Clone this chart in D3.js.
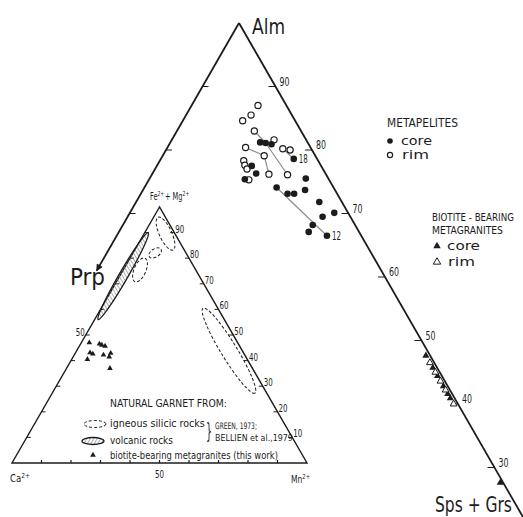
<!DOCTYPE html>
<html><head><meta charset="utf-8">
<script src="https://cdn.jsdelivr.net/npm/d3@7"></script>
<style>
body{margin:0;background:#fff}
svg{display:block}
text{font-family:"DejaVu Sans Condensed","DejaVu Sans",sans-serif;font-stretch:condensed;fill:#1c1c1c}
</style></head><body>
<svg id="chart" width="523" height="517"></svg>
<script>
// ---- Metapelite garnets, mol %: [Alm, Sps+Grs, Prp]
const coreComp = [
  [81.2,12.3,6.5],[81.1,13.1,5.8],[80.9,14.0,5.1],[78.6,18.2,3.2],[77.5,13.0,9.5],
  [76.3,14.2,9.5],[75.4,13.1,11.5],[75.5,21.4,3.1],[74.1,18.1,7.8],[73.7,22.2,4.1],
  [73.1,20.1,6.8],[73.1,21.0,5.9],[71.8,25.1,3.1],[70.1,28.0,1.9],[69.5,26.7,3.8],
  [68.2,26.0,5.8],[67.1,26.0,6.9],[66.5,28.8,4.7]
];
const rimComp = [
  [87.0,9.1,3.9],[85.5,8.9,5.6],[84.6,8.2,7.2],[83.0,10.6,6.4],[81.6,14.0,4.4],
  [80.4,10.7,8.9],[79.1,13.9,7.0],[80.2,15.9,3.9],[80.0,17.0,3.0],[78.3,11.5,10.2],
  [77.6,12.0,10.4],[77.0,12.6,10.4],[76.2,16.0,7.8],[76.1,18.6,5.3],[75.3,13.7,11.0]
];
// core/rim pairs joined by tie lines
const tieLinks = [
  [["rim",3],["core",1]],[["rim",5],["rim",6]],[["core",1],["rim",13]],
  [["rim",7],["core",3]],[["core",8],["core",17]],[["rim",6],["rim",12]]
];
// numbered samples
const sampleTags = [{ref:["core",3], tag:"18"},{ref:["core",17], tag:"12"}];

// ---- Biotite-bearing metagranites, mol %: [Alm, Sps+Grs, Prp]
const graniteCore = [
  [47.6,51.8,0.6],[45.7,53.7,0.6],[44.4,55.0,0.6],[42.8,56.6,0.6],
  [41.6,57.8,0.6],[40.9,58.5,0.6],[27.6,72.0,0.4]
];
const graniteRim = [
  [46.5,52.9,0.6],[45.0,54.4,0.6],[43.6,55.8,0.6],[42.2,57.2,0.6],[40.0,59.4,0.6]
];
const almTicks = [90,80,70,60,50,40,30];
const almLeftTicks = [90,80,70];

// ---- Inset: natural garnet, cation %: [Fe2+ + Mg2+, Ca2+, Mn2+]
const insetGranite = [
  [47.0,50.3,2.7],[46.5,47.1,6.4],[46.1,46.5,7.4],[45.7,45.6,8.7],[43.1,52.0,4.9],
  [42.6,51.3,6.1],[42.2,47.9,9.9],[42.9,45.1,12.0],[41.5,46.3,12.2],[40.5,54.2,5.3],
  [37.0,48.3,14.7]
];
// composition fields: long-axis end points and width (% of side)
const volcanicFields = [
  {ends:[[90,8.8,1.2],[56,42.8,1.2]], width:3.0}
];
const igneousFields = [
  {ends:[[96,2.5,1.5],[83.2,3.8,13.0]], width:4.2},
  {ends:[[80.6,13.15,6.25],[83.5,7.75,8.75]], width:2.8},
  {ends:[[80,14.9,5.1],[70.8,22.9,6.3]], width:4.0},
  {ends:[[60.5,5.0,34.5],[27.3,4.0,68.7]], width:5.4}
];
const insetRightTicks = [90,80,70,60,50,40,30,20,10];
const insetBaseTicks = [10,20,30,40,50,60,70,80,90];

const svg = d3.select("#chart");
const ink = "#1c1c1c";

// narrow drafting lettering: text squeezed horizontally to a given run length
const label = (g, x, y, str, size, width, anchor) => {
  const t = g.append("text").attr("font-size",size).text(str);
  const nat = t.node().getComputedTextLength();
  const w = width || nat;
  const x0 = anchor === "end" ? x - w : anchor === "middle" ? x - w/2 : x;
  t.attr("transform", `translate(${x0},${y}) scale(${w/nat},1)`);
  return t;
};
// ion symbol with raised charge, e.g. Ca2+
const ion = (g, x, y, parts, width) => {
  const grp = g.append("g");
  let cx = 0;
  parts.forEach(([txt, sup]) => {
    const t = grp.append("text").attr("x",cx).attr("y",0).attr("font-size", sup ? 7 : 10)
      .attr("dy", sup ? -4 : 0).text(txt);
    cx += t.node().getComputedTextLength() + (sup ? 1 : 0);
  });
  grp.attr("transform", `translate(${x},${y}) scale(${width/cx},1)`);
};

// ---------- projections ----------
const bigY = d3.scaleLinear().domain([0,100]).range([658,23]);
const bigX = d3.scaleLinear().domain([-100,100]).range([-126,604]);
const big = ([alm,sps,prp]) => [bigX(sps-prp), bigY(alm)];

const inY = d3.scaleLinear().domain([0,100]).range([463,207]);
const inX = d3.scaleLinear().domain([-100,100]).range([12,307]);
const inset = ([fm,ca,mn]) => [inX(mn-ca), inY(fm)];
const insetUnit = (307-12)/100;

const line = d3.line();

// hatching for volcanic fields
const defs = svg.append("defs");
defs.append("pattern").attr("id","hatch").attr("patternUnits","userSpaceOnUse")
  .attr("width",3).attr("height",3).attr("patternTransform","rotate(30)")
  .append("line").attr("x1",0).attr("y1",0).attr("x2",0).attr("y2",3)
  .attr("stroke","#8a8a8a").attr("stroke-width",1.4);

// ---------- main ternary ----------
const gBig = svg.append("g");
// Alm – Sps+Grs side
gBig.append("path").attr("d", line([big([100,0,0]), big([22,78,0])]))
  .attr("stroke",ink).attr("stroke-width",1.8).attr("fill","none");
// Alm – Prp side, ending in an arrow towards Prp
defs.append("marker").attr("id","arrow").attr("viewBox","0 0 10 10")
  .attr("refX",9).attr("refY",5).attr("markerWidth",10).attr("markerHeight",7)
  .attr("markerUnits","userSpaceOnUse").attr("orient","auto")
  .append("path").attr("d","M0,0L10,5L0,10z").attr("fill",ink);
gBig.append("path").attr("d", line([big([100,0,0]), big([61,0,39])]))
  .attr("stroke",ink).attr("stroke-width",1.8).attr("fill","none")
  .attr("marker-end","url(#arrow)");

almTicks.forEach(v => {
  const [x,y] = big([v,100-v,0]);
  gBig.append("line").attr("x1",x).attr("y1",y).attr("x2",x-7).attr("y2",y)
    .attr("stroke",ink).attr("stroke-width",1);
  label(gBig, x+4, y-1, String(v), 13, 10);
});
almLeftTicks.forEach(v => {
  const [x,y] = big([v,0,100-v]);
  gBig.append("line").attr("x1",x).attr("y1",y).attr("x2",x+6).attr("y2",y)
    .attr("stroke",ink).attr("stroke-width",1);
});

label(gBig, 252, 34, "Alm", 21, 33);
label(gBig, 70, 285, "Prp", 23, 35);
label(gBig, 435, 512, "Sps + Grs", 21, 77);

const pick = ([set,i]) => set === "core" ? coreComp[i] : rimComp[i];
gBig.selectAll(".tie").data(tieLinks).join("path").attr("class","tie")
  .attr("d", d => line([big(pick(d[0])), big(pick(d[1]))]))
  .attr("stroke","#8c8c8c").attr("stroke-width",1.2).attr("fill","none");

gBig.selectAll(".rim").data(rimComp).join("circle").attr("class","rim")
  .attr("cx", d => big(d)[0]).attr("cy", d => big(d)[1]).attr("r",3.1)
  .attr("fill","#fff").attr("stroke",ink).attr("stroke-width",1.2);
gBig.selectAll(".core").data(coreComp).join("circle").attr("class","core")
  .attr("cx", d => big(d)[0]).attr("cy", d => big(d)[1]).attr("r",3.3)
  .attr("fill",ink);
sampleTags.forEach(d => {
  const [x,y] = big(pick(d.ref));
  label(gBig, x+5, y+4, d.tag, 12, 9);
});

const tri = d3.symbol().type(d3.symbolTriangle);
gBig.selectAll(".gcore").data(graniteCore).join("path").attr("class","gcore")
  .attr("transform", d => `translate(${big(d)})`).attr("d", tri.size(22)())
  .attr("fill",ink);
gBig.selectAll(".grim").data(graniteRim).join("path").attr("class","grim")
  .attr("transform", d => `translate(${big(d)})`).attr("d", tri.size(20)())
  .attr("fill","#fff").attr("stroke",ink).attr("stroke-width",1);

// right-hand legends
const lg = svg.append("g");
label(lg, 387, 127, "METAPELITES", 12, 71);
lg.append("circle").attr("cx",390).attr("cy",141).attr("r",2.8).attr("fill",ink);
label(lg, 401, 145, "core", 12, 31);
lg.append("circle").attr("cx",390).attr("cy",155).attr("r",2.6).attr("fill","#fff").attr("stroke",ink).attr("stroke-width",1.2);
label(lg, 402, 159, "rim", 12, 27);

label(lg, 432, 221, "BIOTITE - BEARING", 10.5, 82);
label(lg, 432, 234, "METAGRANITES", 10.5, 71);
lg.append("path").attr("transform","translate(437,246)").attr("d", tri.size(24)()).attr("fill",ink);
label(lg, 447, 250, "core", 12, 33);
lg.append("path").attr("transform","translate(437,262)").attr("d", tri.size(24)()).attr("fill","#fff").attr("stroke",ink).attr("stroke-width",1);
label(lg, 448, 266, "rim", 12, 27);

// ---------- inset ternary ----------
const gIn = svg.append("g");
gIn.append("path").attr("d", line([inset([100,0,0]), inset([0,100,0]), inset([0,0,100])]) + "Z")
  .attr("stroke",ink).attr("stroke-width",1.4).attr("fill","none");

insetRightTicks.forEach(v => {
  const [x,y] = inset([v,0,100-v]);
  gIn.append("line").attr("x1",x).attr("y1",y).attr("x2",x-4).attr("y2",y).attr("stroke",ink);
  label(gIn, x+1, y, String(v), 11, 9);
  const [lx,ly] = inset([v,100-v,0]);
  gIn.append("line").attr("x1",lx).attr("y1",ly).attr("x2",lx+4).attr("y2",ly).attr("stroke",ink);
});
insetBaseTicks.forEach(v => {
  const [x,y] = inset([0,100-v,v]);
  gIn.append("line").attr("x1",x).attr("y1",y).attr("x2",x).attr("y2",y-3).attr("stroke",ink).attr("stroke-width",1.2);
});
{
  const [x,y] = inset([50,50,0]);
  label(gIn, x-1, y+1, "50", 11, 9, "end");
  const [bx,by] = inset([0,50,50]);
  label(gIn, bx, by+15, "50", 11, 9, "middle");
}
ion(gIn, 150, 200, [["Fe",0],["2+",1],["+ Mg",0],["2+",1]], 40);
ion(gIn, 10, 482, [["Ca",0],["2+",1]], 21);
ion(gIn, 291, 483, [["Mn",0],["2+",1]], 20);

// composition fields as ellipses along their long axis
const fieldEllipse = (g, f) => {
  const [p0,p1] = f.ends.map(inset);
  const cx = (p0[0]+p1[0])/2, cy = (p0[1]+p1[1])/2;
  const rx = Math.hypot(p1[0]-p0[0], p1[1]-p0[1])/2;
  const ang = Math.atan2(p1[1]-p0[1], p1[0]-p0[0])*180/Math.PI;
  return g.append("ellipse").attr("cx",0).attr("cy",0).attr("rx",rx).attr("ry",f.width*insetUnit/2)
    .attr("transform",`translate(${cx},${cy}) rotate(${ang})`);
};
volcanicFields.forEach(f => fieldEllipse(gIn,f).attr("fill","url(#hatch)").attr("stroke",ink).attr("stroke-width",1.3));
igneousFields.forEach(f => fieldEllipse(gIn,f).attr("fill","none").attr("stroke",ink).attr("stroke-width",1).attr("stroke-dasharray","3,2"));

gIn.selectAll(".ig").data(insetGranite).join("path").attr("class","ig")
  .attr("transform", d => `translate(${inset(d)})`).attr("d", tri.size(14)()).attr("fill",ink);

// inset legend
const il = svg.append("g");
label(il, 110, 407, "NATURAL GARNET FROM:", 11, 117);
il.append("ellipse").attr("cx",95).attr("cy",424).attr("rx",11).attr("ry",3.5)
  .attr("fill","none").attr("stroke",ink).attr("stroke-dasharray","3,2");
label(il, 110, 427, "igneous silicic rocks", 10, 95);
il.append("ellipse").attr("cx",93).attr("cy",441).attr("rx",11).attr("ry",3.5)
  .attr("fill","url(#hatch)").attr("stroke",ink).attr("stroke-width",1.3);
label(il, 110, 444, "volcanic rocks", 10, 63);
il.append("path").attr("transform","translate(93,455)").attr("d", tri.size(14)()).attr("fill",ink);
label(il, 110, 459, "biotite-bearing metagranites  (this work)", 10, 168);
label(il, 206, 438, "}", 22, 6);
label(il, 215, 429, "GREEN, 1973;", 9, 42);
label(il, 215, 441, "BELLIEN et al.,1979", 9, 78);
</script>
</body></html>
